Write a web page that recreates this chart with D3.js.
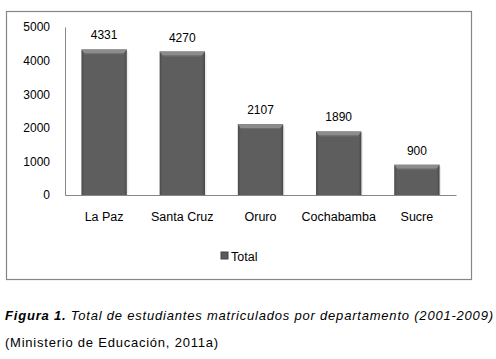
<!DOCTYPE html>
<html><head><meta charset="utf-8">
<script src="https://cdn.jsdelivr.net/npm/d3@7"></script>
<style>body{margin:0;background:#fff}svg{display:block}</style>
</head><body>
<script>
const categories = ["La Paz","Santa Cruz","Oruro","Cochabamba","Sucre"];
const values = [4331,4270,2107,1890,900];
const yTicks = [0,1000,2000,3000,4000,5000];
const seriesName = "Total";
const captionBold = "Figura 1.";
const captionText = " Total de estudiantes matriculados por departamento (2001-2009)";
const sourceText = "(Ministerio de Educación, 2011a)";

const W=496,H=359;
const svg=d3.select("body").append("svg").attr("width",W).attr("height",H);
const font="'Liberation Sans', Arial, sans-serif";

const defs=svg.append("defs");
const g1=defs.append("linearGradient").attr("id","barg").attr("x1",0).attr("x2",1).attr("y1",0).attr("y2",0);
g1.append("stop").attr("offset","0").attr("stop-color","#4a4a4a");
g1.append("stop").attr("offset","0.06").attr("stop-color","#5e5e5e");
g1.append("stop").attr("offset","0.94").attr("stop-color","#5e5e5e");
g1.append("stop").attr("offset","1").attr("stop-color","#454545");

// chart border
svg.append("rect").attr("x",6.5).attr("y",11.5).attr("width",465).attr("height",268)
  .attr("fill","#fff").attr("stroke","#868686").attr("stroke-width",1.2);

const x=d3.scaleBand().domain(categories).range([65,456]).paddingInner(0.42).paddingOuter(0.21);
const y=d3.scaleLinear().domain([0,5000]).range([195,27]);

// axes
const ya=svg.append("g").attr("transform","translate(65,0)")
  .call(d3.axisLeft(y).tickValues(yTicks).tickSize(0).tickPadding(15).tickFormat(d3.format("d")));
ya.select(".domain").attr("stroke","#868686");
ya.selectAll("text").attr("font-family",font).attr("font-size",12).attr("fill","#000");

const bars=svg.append("g");
categories.forEach((c,i)=>{
  const bx=x(c), bw=x.bandwidth(), by=y(values[i]), bh=y(0)-y(values[i]);
  bars.append("rect").attr("x",bx+1.5).attr("y",by+1.5).attr("width",bw).attr("height",bh-1.5).attr("fill","#d8d8d8").attr("opacity",0.5);
  bars.append("rect").attr("x",bx).attr("y",by).attr("width",bw).attr("height",bh).attr("fill","url(#barg)");
  bars.append("path").attr("d",`M${bx},${by}L${bx+bw},${by}L${bx+bw-3},${by+4}L${bx+3},${by+4}Z`).attr("fill","#8c8c8c");
  bars.append("line").attr("x1",bx+3).attr("x2",bx+bw-3).attr("y1",by+4.5).attr("y2",by+4.5).attr("stroke","#6e6e6e");
  svg.append("text").attr("x",bx+bw/2).attr("y",by-10).attr("text-anchor","middle")
    .attr("font-family",font).attr("font-size",12).attr("fill","#000").text(values[i]);
});

const xa=svg.append("g").attr("transform","translate(0,195)")
  .call(d3.axisBottom(x).tickSize(0).tickPadding(17));
xa.select(".domain").attr("stroke","#868686").attr("stroke-width",1.2);
xa.selectAll("text").attr("font-family",font).attr("font-size",12.5).attr("fill","#000");

// legend
const lg=svg.append("g");
lg.append("rect").attr("x",221).attr("y",252).attr("width",7).attr("height",7).attr("fill","#5a5a5a").attr("stroke","#444");
lg.append("text").attr("x",231).attr("y",260.5).attr("font-family",font).attr("font-size",12.5).attr("fill","#000").text(seriesName);

// caption
const cap=svg.append("text").attr("x",5).attr("y",320).attr("font-family",font).attr("font-size",13).attr("font-style","italic").attr("fill","#000")
  .attr("textLength",488).attr("lengthAdjust","spacing");
cap.append("tspan").attr("font-weight","bold").text(captionBold);
cap.append("tspan").text(captionText);
svg.append("text").attr("x",5).attr("y",347).attr("font-family",font).attr("font-size",13).attr("fill","#000")
  .attr("textLength",213).attr("lengthAdjust","spacing").text(sourceText);
</script>
</body></html>
